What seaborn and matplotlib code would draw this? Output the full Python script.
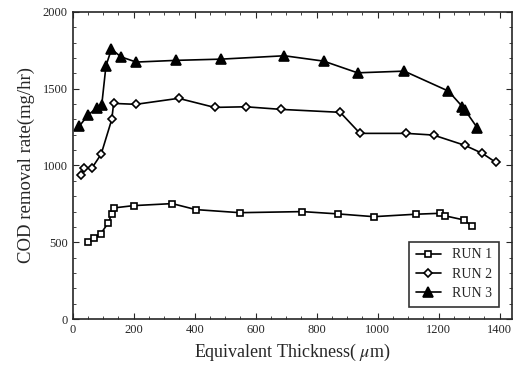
import matplotlib
matplotlib.use("Agg")
import matplotlib.pyplot as plt
import seaborn as sns
import pandas as pd
from matplotlib.ticker import MultipleLocator

run1_x = [51, 71, 92, 117, 128, 135, 200, 326, 404, 548, 753, 870, 987, 1125, 1205, 1222, 1282, 1310]
run1_y = [505, 528, 557, 628, 687, 724, 739, 752, 713, 693, 700, 685, 667, 683, 689, 672, 646, 605]

run2_x = [28, 38, 63, 93, 128, 134, 207, 347, 465, 568, 684, 877, 942, 1094, 1183, 1286, 1343, 1387]
run2_y = [940, 982, 984, 1073, 1300, 1404, 1398, 1437, 1378, 1382, 1365, 1346, 1209, 1209, 1198, 1131, 1079, 1021]

run3_x = [22, 50, 80, 95, 109, 127, 158, 208, 338, 486, 694, 823, 934, 1087, 1232, 1278, 1286, 1327]
run3_y = [1257, 1328, 1376, 1393, 1649, 1757, 1707, 1673, 1684, 1692, 1714, 1679, 1603, 1614, 1484, 1382, 1361, 1244]

labels = ["RUN 1", "RUN 2", "RUN 3"]

sns.set_style("ticks")
plt.rcParams["font.family"] = ["Liberation Serif", "DejaVu Serif"]
plt.rcParams["mathtext.fontset"] = "stix"

fig, ax = plt.subplots(figsize=(5.31, 3.69), dpi=100)
fig.subplots_adjust(left=0.137, right=0.964, top=0.968, bottom=0.135)

series = [(run1_x, run1_y, "s", "white", 4.5),
          (run2_x, run2_y, "D", "white", 4.2),
          (run3_x, run3_y, "^", "black", 6.5)]
for (xs, ys, mk, fc, ms), lab in zip(series, labels):
    df = pd.DataFrame({"x": xs, "y": ys})
    sns.lineplot(data=df, x="x", y="y", ax=ax, color="black", marker=mk,
                 markerfacecolor=fc, markeredgecolor="black", markeredgewidth=1.2,
                 markersize=ms, linewidth=1.2, sort=False, label=lab)

ax.set_xlim(0, 1440)
ax.set_ylim(0, 2000)
ax.xaxis.set_major_locator(MultipleLocator(200))
ax.xaxis.set_minor_locator(MultipleLocator(50))
ax.yaxis.set_major_locator(MultipleLocator(500))
ax.yaxis.set_minor_locator(MultipleLocator(100))
ax.tick_params(which="both", direction="in", top=True, right=True, labelsize=9)
ax.tick_params(which="major", length=4)
ax.tick_params(which="minor", length=2)
for s in ax.spines.values():
    s.set_linewidth(1.2)
    s.set_visible(True)

ax.set_xlabel("Equivalent Thickness( $\\mu$m)", fontsize=13)
ax.set_ylabel("COD removal rate(mg/hr)", fontsize=13.5, labelpad=6)

leg = ax.legend(loc="lower right", bbox_to_anchor=(0.97, 0.04), borderaxespad=0,
                frameon=True, fancybox=False, edgecolor="black", fontsize=10,
                handlelength=1.8, borderpad=0.5, labelspacing=0.45)
leg.get_frame().set_linewidth(1.2)

fig.savefig("out.png", dpi=100)
